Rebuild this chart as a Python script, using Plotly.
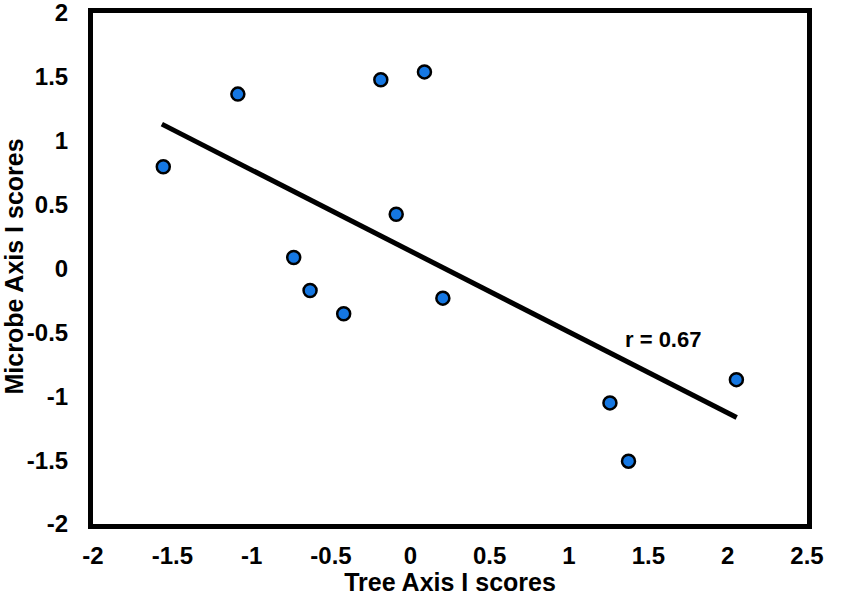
import plotly.graph_objects as go

tree_scores = [-1.557, -1.087, -0.186, 0.089, -0.089, -0.735, -0.632, -0.420, 0.205, 1.258, 1.375, 2.055]
microbe_scores = [0.797, 1.365, 1.477, 1.539, 0.424, 0.086, -0.172, -0.354, -0.232, -1.052, -1.508, -0.870]
fit_x = [-1.566, 2.057]
fit_y = [1.130, -1.167]
x_ticks = [-2, -1.5, -1, -0.5, 0, 0.5, 1, 1.5, 2, 2.5]
y_ticks = [-2, -1.5, -1, -0.5, 0, 0.5, 1, 1.5, 2]
annotation_text = "r = 0.67"
x_title = "Tree Axis I scores"
y_title = "Microbe Axis I scores"

FONT = "Liberation Sans, Arial, sans-serif"

fig = go.Figure()
fig.add_trace(go.Scatter(x=fit_x, y=fit_y, mode="lines",
                         line=dict(color="black", width=5), showlegend=False))
fig.add_trace(go.Scatter(x=tree_scores, y=microbe_scores, mode="markers",
                         marker=dict(size=13, color="#1577e2",
                                     line=dict(color="black", width=2.5)),
                         showlegend=False))
fig.add_annotation(x=1.595, y=-0.557, text="<b>" + annotation_text + "</b>",
                   showarrow=False, font=dict(family=FONT, size=22, color="black"))
fig.add_annotation(xref="paper", yref="paper", x=0, y=0.5, xshift=-80, yshift=2,
                   xanchor="center", yanchor="middle", textangle=-90,
                   text="<b>" + y_title + "</b>", showarrow=False,
                   font=dict(family=FONT, size=25, color="black"))

fig.update_layout(
    width=842, height=596,
    margin=dict(l=93, r=35, t=13, b=72),
    plot_bgcolor="white", paper_bgcolor="white",
    font=dict(family=FONT, color="black"),
)
fig.update_xaxes(range=[-2, 2.5], tickvals=x_ticks,
                 ticktext=["<b>%g</b>" % v for v in x_ticks],
                 tickfont=dict(size=24, family=FONT),
                 showgrid=False, zeroline=False, automargin=False,
                 showline=True, linecolor="black", linewidth=5, mirror=True,
                 ticks="", ticklabelstandoff=6, ticklabeloverflow="allow",
                 title=dict(text="<b>" + x_title + "</b>", font=dict(size=25, family=FONT), standoff=7))
fig.update_yaxes(range=[-2, 2], tickvals=y_ticks,
                 ticktext=["<b>%g</b>" % v for v in y_ticks],
                 tickfont=dict(size=24, family=FONT),
                 showgrid=False, zeroline=False, automargin=False,
                 showline=True, linecolor="black", linewidth=5, mirror=True,
                 ticks="", ticklabelstandoff=15, ticklabeloverflow="allow")

fig.write_html("out.html", config={"displayModeBar": False},
               post_script="document.body.style.margin='0px';")
